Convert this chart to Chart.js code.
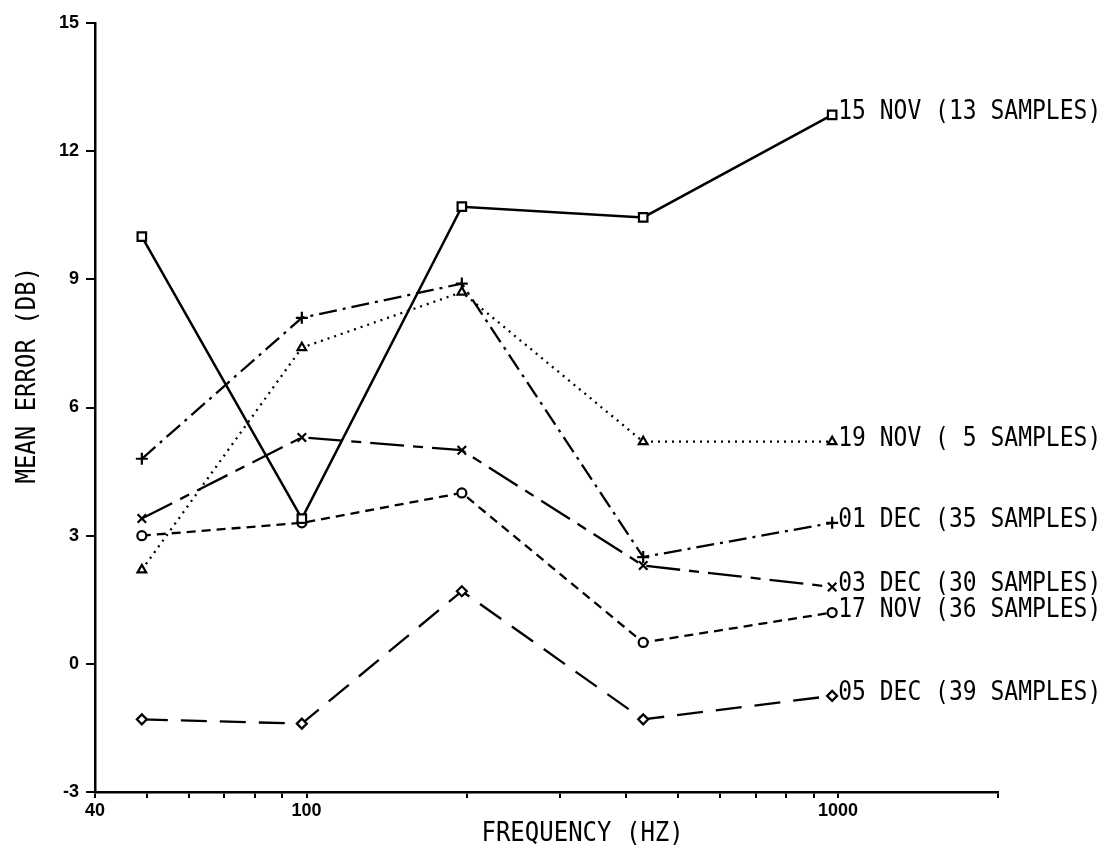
<!DOCTYPE html>
<html>
<head>
<meta charset="utf-8">
<script src="https://cdn.jsdelivr.net/npm/chart.js@4"></script>
<style>
    html, body { margin: 0; padding: 0; background: #fff; }
</style>
</head>
<body>
<canvas id="myChart" width="1118" height="846"></canvas>
<script>
const frequencies = [49, 98, 196, 430, 975];

const seriesNames = [
    '15 NOV (13 SAMPLES)',
    '19 NOV ( 5 SAMPLES)',
    '01 DEC (35 SAMPLES)',
    '03 DEC (30 SAMPLES)',
    '17 NOV (36 SAMPLES)',
    '05 DEC (39 SAMPLES)'
];

// Mean error (dB) per date
const nov15 = [10.0, 3.4, 10.7, 10.45, 12.85];
const nov19 = [2.2, 7.4, 8.7, 5.2, 5.2];
const dec01 = [4.8, 8.1, 8.9, 2.5, 3.3];
const dec03 = [3.4, 5.3, 5.0, 2.3, 1.8];
const nov17 = [3.0, 3.3, 4.0, 0.5, 1.2];
const dec05 = [-1.3, -1.4, 1.7, -1.3, -0.75];

const xTickValues = [40, 50, 60, 70, 80, 90, 100, 200, 300, 400, 500, 600, 700, 800, 900, 1000, 2000];
const xTickLabels = [40, 100, 1000];
const yTickValues = [-3, 0, 3, 6, 9, 12, 15];

const seriesValues = [nov15, nov19, dec01, dec03, nov17, dec05];
const markers = ['rect', 'triangle', 'cross', 'crossRot', 'circle', 'rectRot'];
const markerSizes = [6, 5, 6, 6, 4.5, 5];
const dashes = [[], [2, 5], [18, 6, 3, 6], [34, 9, 10, 9], [9, 6], [26, 13]];

const datasets = seriesValues.map((vals, i) => ({
    label: seriesNames[i],
    data: vals.map((v, j) => ({ x: frequencies[j], y: v })),
    borderColor: '#000',
    borderWidth: i === 0 ? 2.5 : 2.3,
    borderDash: dashes[i],
    pointStyle: markers[i],
    pointRadius: markerSizes[i],
    pointBorderWidth: 2.2,
    pointBorderColor: '#000',
    pointBackgroundColor: '#fff',
    tension: 0,
    fill: false
}));

const MONO = '"DejaVu Sans Mono", "Liberation Mono", monospace';
const TICKFONT = { family: '"Liberation Sans", Arial, sans-serif', size: 18, weight: 'bold' };

// writes the series name next to the last point of each line, plus axis titles
const endLabels = {
    id: 'endLabels',
    afterDatasetsDraw(chart) {
        let ctx = chart.ctx;
        let area = chart.chartArea;
        ctx.save();
        ctx.fillStyle = '#000';
        ctx.font = '23px ' + MONO;
        ctx.textAlign = 'left';
        ctx.textBaseline = 'alphabetic';
        chart.data.datasets.forEach((ds, i) => {
            let meta = chart.getDatasetMeta(i);
            let pt = meta.data[meta.data.length - 1];
            ctx.save();
            ctx.translate(pt.x + 6, pt.y + 4);
            ctx.scale(1, 1.18);
            ctx.fillText(ds.label, 0, 0);
            ctx.restore();
        });

        // axis titles
        ctx.font = '24px ' + MONO;
        ctx.textAlign = 'center';
        ctx.textBaseline = 'middle';
        ctx.save();
        ctx.translate(area.left + (area.right - area.left) * 0.54, 834);
        ctx.scale(1, 1.1);
        ctx.fillText('FREQUENCY (HZ)', 0, 0);
        ctx.restore();

        ctx.save();
        ctx.translate(28, area.top + (area.bottom - area.top) * 0.458);
        ctx.rotate(-Math.PI / 2);
        ctx.scale(1, 1.1);
        ctx.fillText('MEAN ERROR (DB)', 0, 0);
        ctx.restore();
        ctx.restore();
    }
};

const ctx = document.getElementById('myChart').getContext('2d');
new Chart(ctx, {
    type: 'line',
    data: { datasets: datasets },
    options: {
        responsive: false,
        animation: false,
        devicePixelRatio: 1,
        layout: { padding: { top: 23, right: 120, left: 0, bottom: 0 } },
        plugins: {
            legend: { display: false },
            tooltip: { enabled: false }
        },
        scales: {
            x: {
                type: 'logarithmic',
                min: 40,
                max: 2000,
                afterBuildTicks: scale => {
                    scale.ticks = xTickValues.map(v => ({ value: v }));
                },
                afterFit: scale => { scale.height = 54; },
                ticks: {
                    autoSkip: false,
                    maxRotation: 0,
                    color: '#000',
                    padding: 2,
                    font: TICKFONT,
                    callback: v => xTickLabels.includes(v) ? String(v) : ''
                },
                grid: {
                    drawOnChartArea: false,
                    color: '#000',
                    lineWidth: 2,
                    tickLength: 6
                },
                border: { color: '#000', width: 2.5 }
            },
            y: {
                type: 'linear',
                min: -3,
                max: 15,
                afterBuildTicks: scale => {
                    scale.ticks = yTickValues.map(v => ({ value: v }));
                },
                afterFit: scale => { scale.width = 95; },
                ticks: {
                    color: '#000',
                    padding: 7,
                    font: TICKFONT
                },
                grid: {
                    drawOnChartArea: false,
                    color: '#000',
                    lineWidth: 2,
                    tickLength: 9
                },
                border: { color: '#000', width: 2.5 }
            }
        }
    },
    plugins: [endLabels]
});
</script>
</body>
</html>
